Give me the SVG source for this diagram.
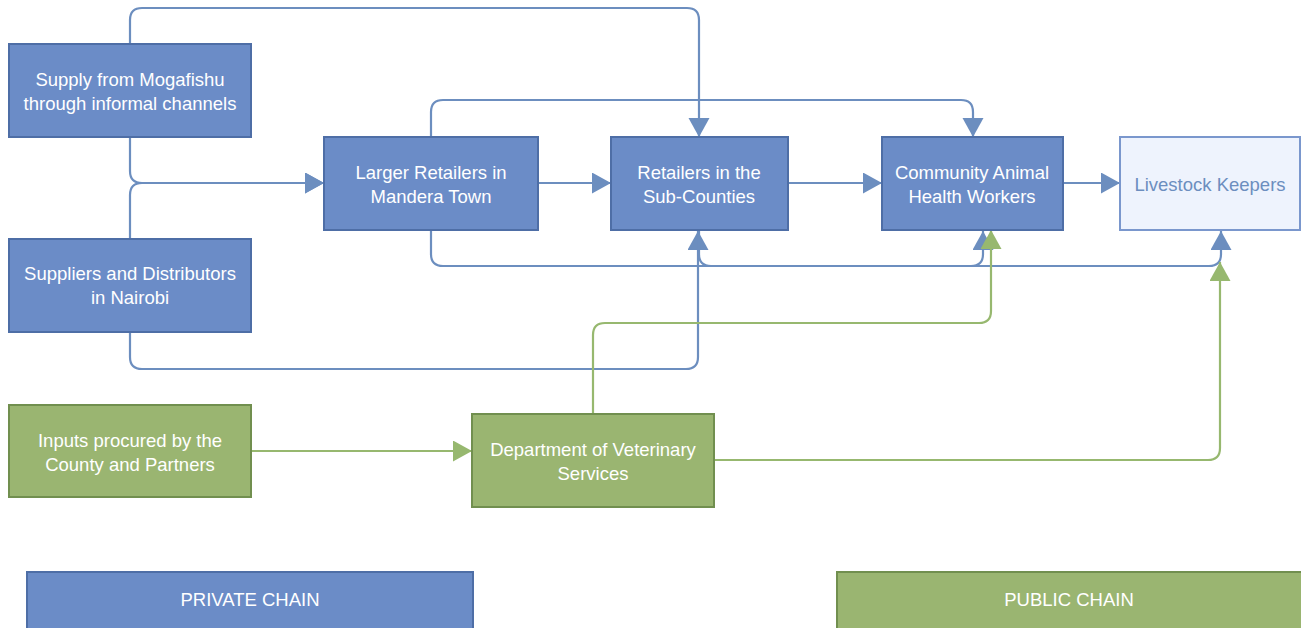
<svg xmlns="http://www.w3.org/2000/svg" width="1301" height="628" viewBox="0 0 1301 628">
<style>
  .bn { fill: #6b8cc7; stroke: #4e6ea6; stroke-width: 2; }
  .gn { fill: #9ab571; stroke: #718f4f; stroke-width: 2; }
  .lk { fill: #eef3fd; stroke: #7a97cd; stroke-width: 2; }
  .t { font-family: "Liberation Sans", Arial, Helvetica, sans-serif; font-size: 18.5px; fill: #ffffff; text-anchor: middle; }
  .tl { fill: #6c8ebf; }
  .eb { fill: none; stroke: #6c8ebf; stroke-width: 2.2; }
  .eg { fill: none; stroke: #97b86f; stroke-width: 2.2; }
</style>
<defs>
  <marker id="ab" markerUnits="userSpaceOnUse" markerWidth="20" markerHeight="22" refX="19" refY="10.5" orient="auto" viewBox="0 0 20 22">
    <path d="M0,0 L19,10.5 L0,21 Z" fill="#6c8ebf"/>
  </marker>
  <marker id="ag" markerUnits="userSpaceOnUse" markerWidth="20" markerHeight="22" refX="19" refY="10.5" orient="auto" viewBox="0 0 20 22">
    <path d="M0,0 L19,10.5 L0,21 Z" fill="#97b86f"/>
  </marker>
</defs>
<rect width="1301" height="628" fill="#ffffff"/>
<g id="connectors">
  <path class="eb" d="M130,44 V20 Q130,8 142,8 H687 Q699,8 699,20 V137" marker-end="url(#ab)"/>
  <path class="eb" d="M130,138 V171 Q130,183 142,183 H324" marker-end="url(#ab)"/>
  <path class="eb" d="M130,239 V195 Q130,183 142,183 H324" marker-end="url(#ab)"/>
  <path class="eb" d="M130,332 V357 Q130,369 142,369 H686 Q698,369 698,357 V231" marker-end="url(#ab)"/>
  <path class="eb" d="M538,183 H611" marker-end="url(#ab)"/>
  <path class="eb" d="M788,183 H882" marker-end="url(#ab)"/>
  <path class="eb" d="M1063,183 H1120" marker-end="url(#ab)"/>
  <path class="eb" d="M431,137 V112 Q431,100 443,100 H961 Q973,100 973,112 V137" marker-end="url(#ab)"/>
  <path class="eb" d="M431,230 V254 Q431,266 443,266 H971 Q983,266 983,254 V231" marker-end="url(#ab)"/>
  <path class="eb" d="M699,231 V254 Q699,266 711,266 H1209 Q1221,266 1221,254 V231" marker-end="url(#ab)"/>
  <path class="eg" d="M593,414 V335 Q593,323 605,323 H979 Q991,323 991,311 V230" marker-end="url(#ag)"/>
  <path class="eg" d="M714,460 H1208 Q1220,460 1220,448 V262" marker-end="url(#ag)"/>
  <path class="eg" d="M251,451 H472" marker-end="url(#ag)"/>
</g>
<g id="n-mogafishu">
  <rect class="bn" x="9" y="44" width="242" height="93"/>
  <text class="t" x="130" y="85.5">Supply from Mogafishu</text>
  <text class="t" x="130" y="109.5">through informal channels</text>
</g>
<g id="n-nairobi">
  <rect class="bn" x="9" y="239" width="242" height="93"/>
  <text class="t" x="130" y="279.5">Suppliers and Distributors</text>
  <text class="t" x="130" y="303.5">in Nairobi</text>
</g>
<g id="n-larger">
  <rect class="bn" x="324" y="137" width="214" height="93"/>
  <text class="t" x="431" y="178.5">Larger Retailers in</text>
  <text class="t" x="431" y="202.5">Mandera Town</text>
</g>
<g id="n-subcounties">
  <rect class="bn" x="611" y="137" width="177" height="93"/>
  <text class="t" x="699" y="178.5">Retailers in the</text>
  <text class="t" x="699" y="202.5">Sub-Counties</text>
</g>
<g id="n-cahw">
  <rect class="bn" x="882" y="137" width="181" height="93"/>
  <text class="t" x="972" y="178.5">Community Animal</text>
  <text class="t" x="972" y="202.5">Health Workers</text>
</g>
<g id="n-livestock">
  <rect class="lk" x="1120" y="137" width="180" height="93"/>
  <text class="t tl" x="1210" y="190.5">Livestock Keepers</text>
</g>
<g id="n-inputs">
  <rect class="gn" x="9" y="405" width="242" height="92"/>
  <text class="t" x="130" y="446.5">Inputs procured by the</text>
  <text class="t" x="130" y="470.5">County and Partners</text>
</g>
<g id="n-dvs">
  <rect class="gn" x="472" y="414" width="242" height="93"/>
  <text class="t" x="593" y="455.5">Department of Veterinary</text>
  <text class="t" x="593" y="479.5">Services</text>
</g>
<g id="legend-private">
  <rect class="bn" x="27" y="572" width="446" height="57"/>
  <text class="t" x="250" y="605.5">PRIVATE CHAIN</text>
</g>
<g id="legend-public">
  <rect class="gn" x="837" y="572" width="465" height="57"/>
  <text class="t" x="1069" y="605.5">PUBLIC CHAIN</text>
</g>
</svg>
